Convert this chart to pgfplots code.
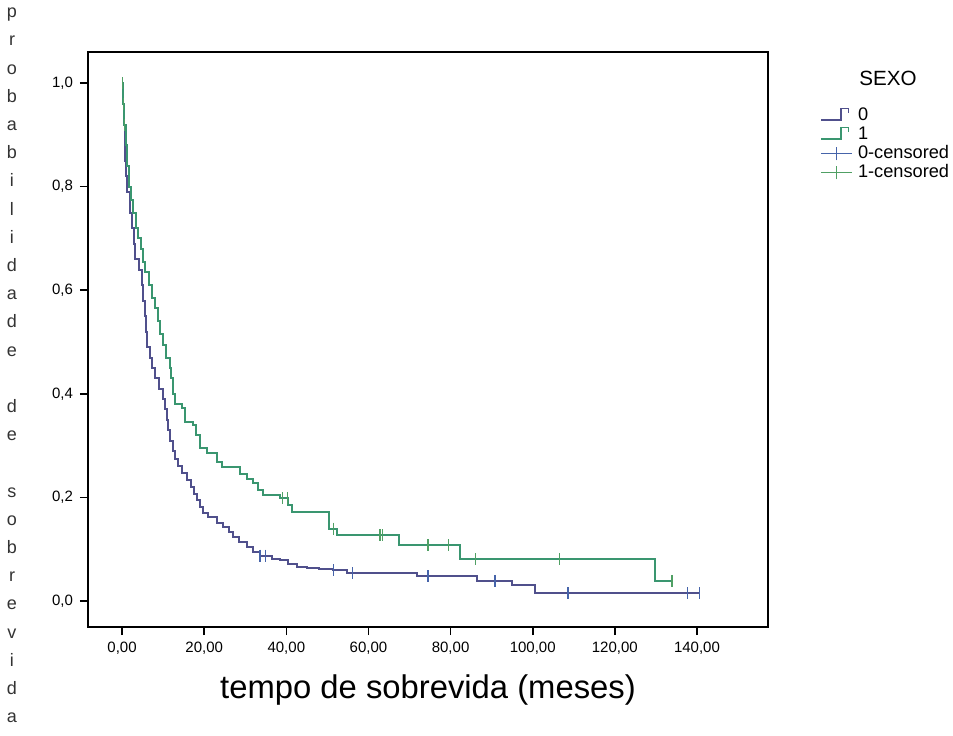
\documentclass[border=0pt]{standalone}
\usepackage{pgfplots}
\pgfplotsset{compat=1.18}
\usepackage{fontspec}
\setmainfont{Liberation Sans}
\definecolor{czero}{RGB}{80,80,140}
\definecolor{cone}{RGB}{58,150,112}
\definecolor{czerom}{RGB}{70,100,170}
\definecolor{conem}{RGB}{80,160,100}
\begin{document}
\begin{tikzpicture}
\path[use as bounding box] (-44pt,-54pt) rectangle (432.5pt,313.5pt);
\begin{axis}[
  at={(0,0)}, anchor=south west,
  width=340pt, height=287.5pt, scale only axis,
  xmin=-8.3, xmax=157.3, ymin=-0.05, ymax=1.06,
  xtick={0,20,...,140}, ytick={0,0.2,...,1.0},
  tick align=outside, tick pos=left,
  major tick length=4pt,
  axis line style={line width=0.8pt},
  every tick/.style={black, line width=0.8pt},
  /pgf/number format/assume math mode=true,
  xticklabel style={font=\fontsize{7.5}{8}\selectfont, /pgf/number format/.cd, fixed, fixed zerofill, precision=2, use comma},
  yticklabel style={font=\fontsize{7.5}{8}\selectfont, /pgf/number format/.cd, fixed, fixed zerofill, precision=1, use comma},
  xlabel={tempo de sobrevida (meses)},
  x label style={at={(axis description cs:0.5,-0.11)}, anchor=center, font=\fontsize{16.4}{18}\selectfont},
  legend style={at={(1.0765,0.904)}, anchor=north west, draw=none, fill=none, inner sep=0pt,
    font=\fontsize{9.1}{9.5}\selectfont, row sep=1.6pt, legend cell align=left,
    nodes={inner sep=0pt, text height=6.7pt, text depth=1.2pt},
    /tikz/every odd column/.append style={column sep=2.5pt}},
  clip=false,
]
\addplot[const plot, color=czero, line width=1pt, legend image code/.code={\draw[czero, line width=0.7pt] (0cm,-0.08cm) -- (0.35cm,-0.08cm) -- (0.35cm,0.12cm) -- (0.48cm,0.12cm) -- (0.48cm,0.04cm);}] coordinates {
(0,1.0) (0.2,0.96) (0.4,0.92) (0.6,0.88) (0.8,0.85) (1.0,0.82) (1.3,0.79) (1.9,0.75)
(2.3,0.72) (2.8,0.69) (3.2,0.66) (4.2,0.64) (4.9,0.61) (5.2,0.58) (5.6,0.55) (5.9,0.52)
(6.1,0.49) (6.8,0.47) (7.4,0.45) (8.0,0.43) (9.0,0.41) (10.0,0.39) (10.5,0.37) (11.0,0.35)
(11.3,0.33) (11.7,0.31) (12.3,0.29) (13.0,0.275) (13.6,0.26) (14.5,0.248) (15.8,0.234)
(16.8,0.22) (17.5,0.207) (18.3,0.195) (19.0,0.182) (19.7,0.17) (21.0,0.162) (23.1,0.151)
(24.5,0.143) (26.0,0.133) (27.0,0.124) (28.5,0.115) (30.4,0.104) (32.0,0.095) (33.6,0.088)
(36.5,0.082) (38.5,0.079) (40.5,0.072) (42.6,0.066) (45.0,0.064) (48.0,0.062) (51.4,0.060)
(54.8,0.054) (71.8,0.048) (86.4,0.039) (95.0,0.031) (100.6,0.015) (140.7,0.015)
};
\addlegendentry{0}
\addplot[const plot, color=cone, line width=1pt, legend image code/.code={\draw[cone, line width=0.7pt] (0cm,-0.08cm) -- (0.35cm,-0.08cm) -- (0.35cm,0.12cm) -- (0.48cm,0.12cm) -- (0.48cm,0.04cm);}] coordinates {
(0,1.0) (0.3,0.96) (0.5,0.92) (0.9,0.88) (1.2,0.84) (1.6,0.80) (2.2,0.775) (2.7,0.75)
(3.3,0.72) (3.8,0.70) (4.5,0.68) (5.1,0.655) (5.6,0.635) (6.5,0.61) (7.3,0.585) (8.0,0.565)
(8.7,0.54) (9.3,0.515) (10.0,0.495) (10.8,0.47) (11.7,0.45) (12.0,0.43) (12.4,0.40)
(12.8,0.38) (14.6,0.372) (15.3,0.345) (17.3,0.34) (18.0,0.32) (19.0,0.295) (20.7,0.285)
(23.1,0.268) (24.3,0.258) (28.7,0.245) (30.3,0.235) (31.9,0.228) (33.0,0.215) (34.3,0.205)
(38.5,0.199) (40.5,0.185) (41.4,0.172) (50.4,0.14) (52.3,0.127) (67.5,0.108) (82.3,0.081)
(129.8,0.039) (134.2,0.039)
};
\addlegendentry{1}
\addplot[only marks, mark=|, mark size=3pt, color=czerom, mark options={line width=0.6pt}, legend image code/.code={\draw[czerom, line width=0.6pt] (0cm,0cm) -- (0.55cm,0cm); \draw[czerom, line width=0.6pt] (0.27cm,-0.12cm) -- (0.27cm,0.12cm);}] coordinates {
(33.6,0.088) (35.0,0.088) (51.4,0.060) (56.2,0.054) (74.5,0.048) (90.8,0.039)
(108.6,0.015) (137.6,0.015) (140.7,0.015)
};
\addlegendentry{0-censored}
\addplot[only marks, mark=|, mark size=3pt, color=conem, mark options={line width=0.6pt}, legend image code/.code={\draw[conem, line width=0.6pt] (0cm,0cm) -- (0.55cm,0cm); \draw[conem, line width=0.6pt] (0.27cm,-0.12cm) -- (0.27cm,0.12cm);}] coordinates {
(0.1,1.0) (0.3,0.96) (0.5,0.92) (39.0,0.199) (40.2,0.199) (51.4,0.14) (62.8,0.127)
(63.5,0.127) (74.5,0.108) (79.4,0.108) (86.0,0.081) (106.6,0.081) (133.9,0.039)
};
\addlegendentry{1-censored}
\end{axis}
\node[font=\fontsize{10.3}{12}\selectfont] at (400pt,274.5pt) {SEXO};
\node[font=\fontsize{9}{14.1}\selectfont, align=center, anchor=center, text=black!80] at (-38pt,130.75pt)
{p\\r\\o\\b\\a\\b\\i\\l\\i\\d\\a\\d\\e\\~\\d\\e\\~\\s\\o\\b\\r\\e\\v\\i\\d\\a};
\end{tikzpicture}
\end{document}
